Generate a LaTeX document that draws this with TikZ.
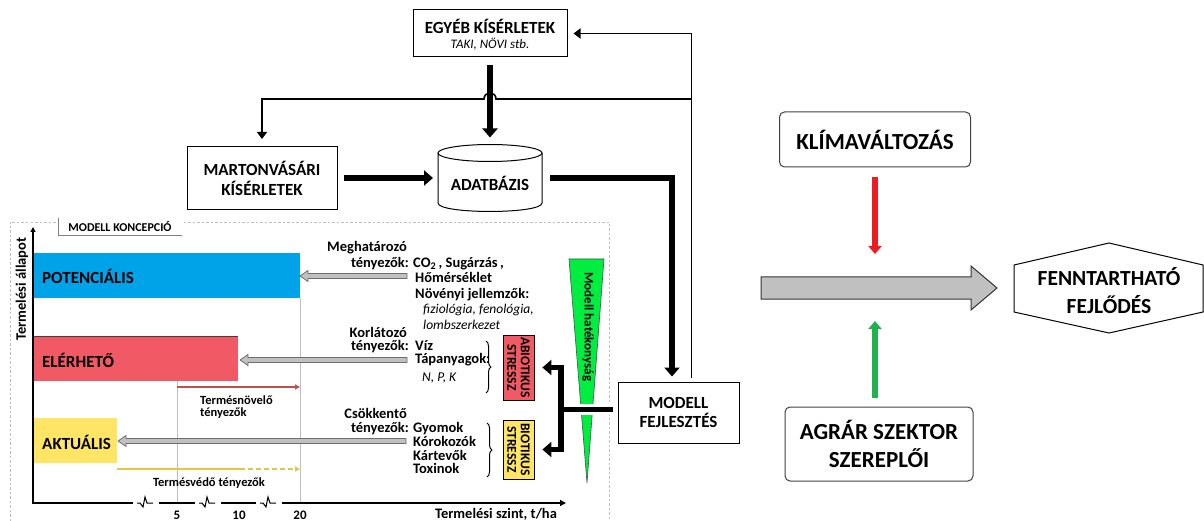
\documentclass[tikz,border=0pt]{standalone}
\usepackage{fontspec}
\setmainfont{Carlito}
\usetikzlibrary{arrows.meta,decorations.pathreplacing}
\definecolor{barblue}{RGB}{0,162,232}
\definecolor{barred}{RGB}{241,90,100}
\definecolor{baryel}{RGB}{255,229,102}
\definecolor{trigreen}{RGB}{0,238,64}
\definecolor{arrred}{RGB}{237,28,36}
\definecolor{arrgreen}{RGB}{34,177,76}
\definecolor{tnred}{RGB}{192,80,77}
\definecolor{tvyel}{RGB}{222,200,70}
\definecolor{garrfill}{RGB}{192,192,192}
\definecolor{garredge}{RGB}{110,110,110}
\definecolor{lgray}{RGB}{190,190,190}
\newcommand\garrow[3]{\filldraw[fill=garrfill,draw=garredge,line width=0.8pt] (#1,#2) -- ++(8,-5.5) -- ++(0,3) -- ++({#3-#1-8},0) -- ++(0,5) -- ++({#1+8-#3},0) -- ++(0,3) -- cycle;}
\newcommand\axbreak[1]{\draw[line width=1pt] ({#1-8},503) -- ({#1-5},503) -- ({#1-2},507) -- (#1,497) -- ({#1+2},503) -- ({#1+8},503);}
\begin{document}
\begin{tikzpicture}[x=1pt,y=-1pt,
 mbox/.style={draw, line width=1pt, fill=white, inner sep=0pt, align=center},
 rbox/.style={draw=black!75, line width=1pt, rounded corners=5pt, inner sep=0pt, align=center},
 thk/.style={line width=5.5pt, -{Triangle[length=9pt,width=15pt]}},
 thn/.style={line width=1.6pt, -{Triangle[length=7pt,width=10pt]}},
 bigtxt/.style={font=\fontsize{17}{20}\selectfont\bfseries, inner sep=0pt, align=center},
 fac/.style={font=\fontsize{14.5}{15}\selectfont\bfseries, inner sep=0pt},
 ita/.style={font=\fontsize{13.5}{15}\selectfont\itshape, inner sep=0pt},
 smltxt/.style={font=\fontsize{12.5}{12}\selectfont\bfseries, inner sep=0pt, align=left},
 barnode/.style={inner sep=0pt, outer sep=0pt, draw=none},
 hugetxt/.style={font=\fontsize{23}{28}\selectfont\bfseries, align=center, inner sep=0pt},
 strbox/.style={draw, line width=0.8pt, rotate=-90, minimum height=31, inner sep=0pt, align=center, font=\fontsize{13.5}{13.5}\selectfont\bfseries},
]
\useasboundingbox (0,0) rectangle (1204,521);

% ---------------- top part ----------------
\node[mbox, minimum width=154, minimum height=47] (egyeb) at (490,33.5) {};
\node[bigtxt] (egyebA) at (490,26) {EGYÉB KÍSÉRLETEK};
\node[font=\fontsize{13}{13}\selectfont\itshape, inner sep=0pt] (egyebB) at (490,44) {TAKI, NÖVI stb.};

\node[mbox, bigtxt, minimum width=150, minimum height=63] (marton) at (262,178) {MARTONVÁSÁRI\\KÍSÉRLETEK};

\node[barnode, minimum width=104, minimum height=67] (adat) at (490,178) {};
\draw[line width=1pt] (438,153) -- (438,203) .. controls (438,214.3) and (542,214.3) .. (542,203) -- (542,153);
\draw[line width=1pt] (490,153) ellipse [x radius=52, y radius=8.5];
\node[bigtxt] (adatT) at (490,183) {ADATBÁZIS};

\node[mbox, font=\fontsize{17}{19}\selectfont\bfseries, minimum width=121, minimum height=61] (modell) at (678.5,412.5) {MODELL\\FEJLESZTÉS};

% connectors top
\draw[thk, shorten <=8pt, shorten >=7pt] (egyeb) -- (adat);
\draw[thn, shorten <=4pt, shorten >=6pt] ([xshift=13pt]modell.north) |- (egyeb.east);
\coordinate (jn) at (691.5,99);
\draw[thn, shorten >=7pt] (jn) -- (496,99) .. controls (496,91) and (484,91) .. (484,99) -- (262,99) -- (marton.north);
\draw[thk, shorten <=6pt, shorten >=5pt] (marton.east) -- (adat.west);
\draw[thk, line join=miter, shorten <=8pt, shorten >=5pt] (adat.east) -| ([xshift=-6.5pt]modell.north);

% ---------------- model concept frame ----------------
\draw[lgray, line width=0.8pt, dash pattern=on 2.5pt off 2pt] (10,521) -- (10,222) -- (609,222) -- (609,521);
\node[fill=white, inner sep=0pt, minimum width=124, minimum height=17, font=\fontsize{12}{12}\selectfont\bfseries] (mk) at (120,226.5) {MODELL KONCEPCIÓ};
\draw[gray, line width=0.8pt] (58,218) -- (58,235) -- (182,235);

% guide lines
\draw[lgray, line width=1pt] (177,381) -- (177,503);
\draw[lgray, line width=1pt] (300,298) -- (300,503);

% bars
\node[barnode, fill=barblue, minimum width=267, minimum height=45] (pot) at (166.5,275.5) {};
\node[barnode, fill=barred, minimum width=205, minimum height=45] (eler) at (135.5,358.5) {};
\draw[black!75, line width=0.8pt] (eler.north west) -- (eler.north east);
\node[barnode, fill=baryel, minimum width=84, minimum height=45] (akt) at (75,440.5) {};
\node[bigtxt, anchor=west] (potT) at (42,276) {POTENCIÁLIS};
\node[bigtxt, anchor=west] (elerT) at (42,360) {ELÉRHETŐ};
\node[bigtxt, anchor=west] (aktT) at (42,442) {AKTUÁLIS};

% gray arrows
\garrow{300}{276}{407}
\garrow{240}{360}{407}
\garrow{118}{441}{406}

% yield arrows
\draw[tnred, line width=1.2pt, -{Triangle[length=5pt,width=5pt]}] (177,387) -- (300,387);
\node[smltxt, anchor=north west] (tn) at (200,396) {Termésnövelő\\tényezők};
\draw[tvyel, line width=1.5pt] (117,469) -- (240,469);
\draw[tvyel, line width=1.5pt, dash pattern=on 5pt off 3pt, -{Triangle[length=5pt,width=5pt]}] (240,469) -- (300,469);
\node[smltxt] (tv) at (209,483) {Termésvédő tényezők};

% axes
\draw[line width=2pt, -{Triangle[length=5pt,width=5pt]}] (33,504) -- (33,227);
\draw[line width=2pt] (32,503) -- (133,503);
\draw[line width=2pt] (159,503) -- (195,503);
\draw[line width=2pt] (221,503) -- (256,503);
\draw[line width=2pt, -{Triangle[length=6pt,width=6pt]}] (282,503) -- (566,503);
\axbreak{145}
\axbreak{207}
\axbreak{268}
\node[font=\fontsize{13}{13}\selectfont\bfseries, inner sep=0pt] (x5) at (177,515) {5};
\node[font=\fontsize{13}{13}\selectfont\bfseries, inner sep=0pt] (x10) at (239,515) {10};
\node[font=\fontsize{13}{13}\selectfont\bfseries, inner sep=0pt] (x20) at (300,515) {20};
\node[fac] (xl) at (496,514) {Termelési szint, t/ha};
\node[fac, rotate=90] (yl) at (22,289) {Termelési állapot};

% factor texts
\node[fac, anchor=base east] (f1) at (407,251.5) {Meghatározó};
\node[fac, anchor=base east] (f2) at (409,267.5) {tényezők:};
\node[fac, anchor=base west] (f3) at (413,267.5) {CO\textsubscript{2}\,, Sugárzás\,,};
\node[fac, anchor=base west] (f4) at (415,282.5) {Hőmérséklet};
\node[fac, anchor=base west] (f5) at (415,298.5) {Növényi jellemzők:};
\node[ita, anchor=base west] (f6) at (423,313.5) {fiziológia, fenológia,};
\node[ita, anchor=base west] (f7) at (423,329.5) {lombszerkezet};
\node[fac, anchor=base east] (k1) at (407,337.5) {Korlátozó};
\node[fac, anchor=base east] (k2) at (409,350.5) {tényezők:};
\node[fac, anchor=base west] (k3) at (415,350.5) {Víz};
\node[fac, anchor=base west] (k4) at (415,363.5) {Tápanyagok:};
\node[ita, anchor=base west] (k5) at (422,381.5) {N, P, K};
\node[fac, anchor=base east] (c1) at (407,418.5) {Csökkentő};
\node[fac, anchor=base east] (c2) at (409,432.5) {tényezők:};
\node[fac, anchor=base west] (c3) at (413,432.5) {Gyomok};
\node[fac, anchor=base west] (c4) at (413,446.5) {Kórokozók};
\node[fac, anchor=base west] (c5) at (413,460.5) {Kártevők};
\node[fac, anchor=base west] (c6) at (413,473.5) {Toxinok};

% braces
\draw[line width=1pt, decorate, decoration={brace, amplitude=5pt}] (486,341) -- (486,393);
\draw[line width=1pt, decorate, decoration={brace, amplitude=5pt}] (487,423) -- (487,477);

% stress boxes
\node[strbox, fill=barred, minimum width=65] (abio) at (518.5,367.5) {ABIOTIKUS\\STRESSZ};
\node[strbox, fill=baryel, minimum width=59] (bio) at (518.5,449.5) {BIOTIKUS\\STRESSZ};

% model efficiency triangle
\filldraw[fill=trigreen, draw=black!70, line width=0.6pt] (569,259) -- (604,259) -- (587,483) -- cycle;
\node[font=\fontsize{13}{13}\selectfont\bfseries, rotate=-90, inner sep=0pt] (mh) at (588,327) {Modell hatékonyság};

% model -> stress connectors
\coordinate (br) at (561,409.5);
\draw[line width=5.5pt, shorten <=5pt, preaction={draw=white, line width=11pt}] ([yshift=3pt]modell.west) -- (br);
\draw[thk, line join=miter, shorten >=8pt] (br) |- (abio);
\draw[thk, line join=miter, shorten >=8pt] (br) |- (bio);

% ---------------- right part ----------------
\node[rbox, hugetxt, minimum width=191, minimum height=55] (klima) at (875,139.5) {KLÍMAVÁLTOZÁS};
\node[rbox, hugetxt, minimum width=188, minimum height=74] (agrar) at (879,444) {AGRÁR SZEKTOR\\SZEREPLŐI};
\draw[line width=1pt, fill=white] (1014,265) -- (1109,243) -- (1203,265) -- (1203,312) -- (1109,333) -- (1014,312) -- cycle;
\node[font=\fontsize{21.5}{28}\selectfont\bfseries, align=center, inner sep=0pt] (fenn) at (1109,291) {FENNTARTHATÓ\\FEJLŐDÉS};
\filldraw[fill=garrfill, draw=black!80, line width=1pt] (761,277) -- (971,277) -- (971,266) -- (997,288) -- (971,310) -- (971,299) -- (761,299) -- cycle;
\coordinate (rtip) at (875,254);
\coordinate (gtip) at (875,321);
\draw[arrred, line width=6pt, -{Triangle[length=8pt,width=13pt]}, shorten <=10pt] (klima.south) -- (rtip);
\draw[arrgreen, line width=6pt, -{Triangle[length=8pt,width=13pt]}, shorten <=9pt] ([xshift=-4pt]agrar.north) -- (gtip);
\end{tikzpicture}
\end{document}
